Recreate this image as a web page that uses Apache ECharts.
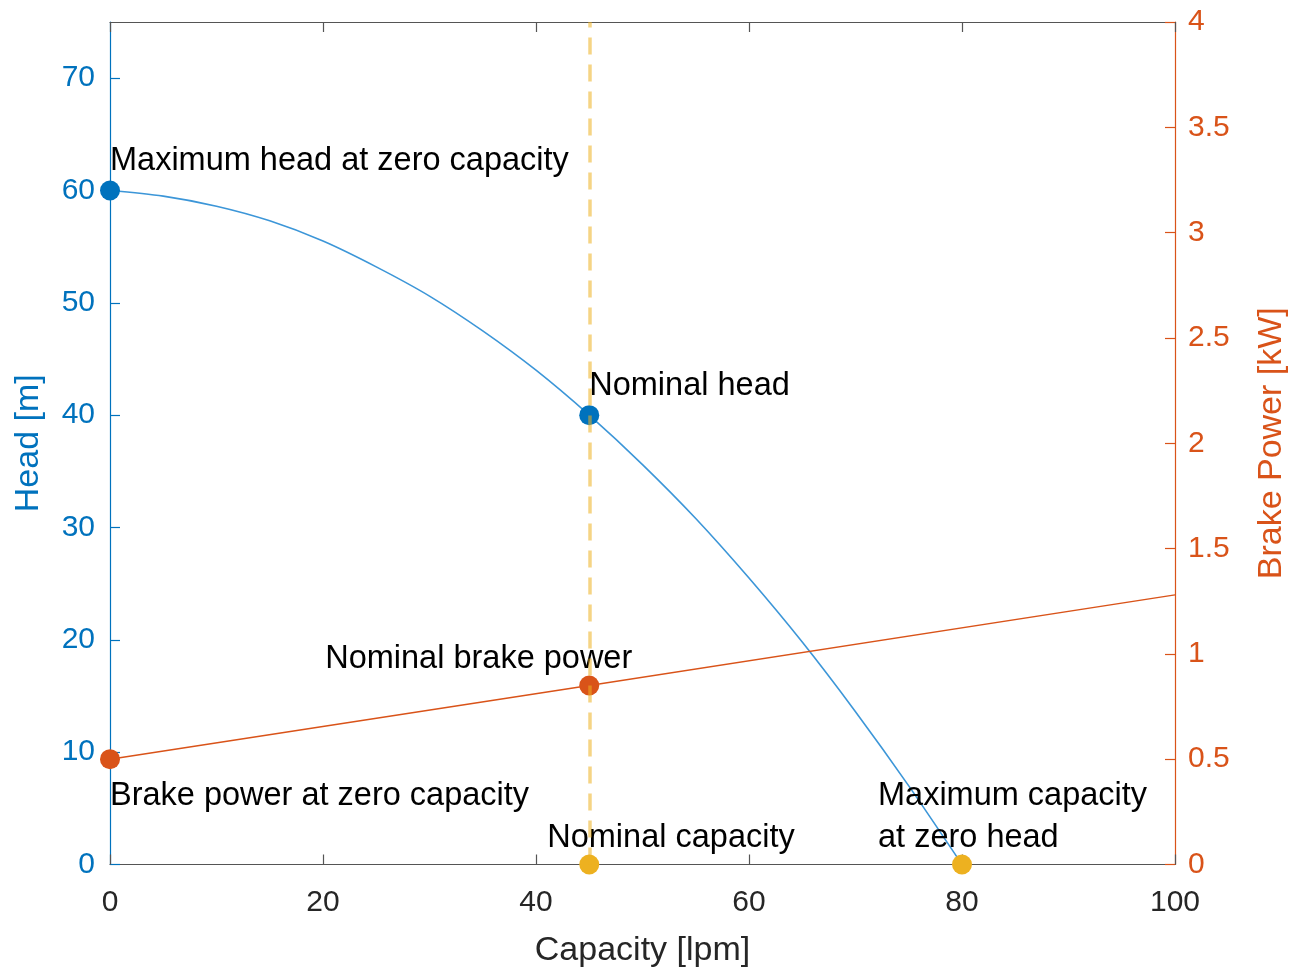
<!DOCTYPE html>
<html>
<head>
<meta charset="utf-8">
<script src="https://cdn.jsdelivr.net/npm/echarts@6/dist/echarts.min.js"></script>
<style>
html,body{margin:0;padding:0;background:#fff;}
#chart{width:1298px;height:969px;}
</style>
</head>
<body>
<div id="chart"></div>
<script>
// ---- data ----
const capacity = [0, 5, 10, 15, 20, 25, 30, 35, 40, 45, 50, 55, 60, 65, 70, 75, 80];
const head = [60, 59.5, 58.6, 57.3, 55.5, 53.2, 50.6, 47.5, 44.0, 40, 35.6, 30.8, 25.5, 19.8, 13.6, 7.0, 0];
const powerCapacity = [0, 45, 100];
const brakePower = [0.5, 0.85, 1.28];
const headPoints = [[0, 60], [45, 40]];
const headLabels = ['Maximum head at zero capacity', 'Nominal head'];
const powerPoints = [[0, 0.5], [45, 0.85]];
const powerLabels = ['Brake power at zero capacity', 'Nominal brake power'];
const capacityPoints = [[45, 0], [80, 0]];
const capacityLabels = ['Nominal capacity', 'Maximum capacity\nat zero head'];
const nominalCapacity = 45;
const xTicks = [0, 20, 40, 60, 80, 100];

const FONT = "'Liberation Sans', Arial, Helvetica, sans-serif";
const BLUE = '#0072BD', ORANGE = '#D95319', YELLOW = '#EDB120', GREY = '#262626';

const chart = echarts.init(document.getElementById('chart'), null, {renderer: 'canvas'});

// label placements (pixel offsets relative to the 20px marker box)
const headLabelPos = [
  {position: [10, -19], align: 'left'},
  {position: [10, -19], align: 'left'}
];
const powerLabelPos = [
  {position: [10, 47], align: 'left'},
  {position: [53, -16], align: 'right'}
];
const capLabelPos = [
  {position: [-32, -16], align: 'left'},
  {position: [-74, -37], align: 'left'}
];

function pts(points, labels, pos) {
  return points.map((p, i) => ({
    value: p,
    label: {
      show: true,
      formatter: labels[i],
      position: pos[i].position,
      align: pos[i].align,
      verticalAlign: 'middle',
      color: '#000',
      opacity: 1,
      textBorderWidth: 0,
      fontSize: 32.5,
      fontFamily: FONT,
      lineHeight: 42
    }
  }));
}

const option = {
  animation: false,
  backgroundColor: '#fff',
  grid: {left: 110, right: 123, top: 22, bottom: 104.5, containLabel: false, outerBoundsMode: 'none'},
  xAxis: [
    {
      type: 'value', min: xTicks[0], max: xTicks[xTicks.length - 1], interval: 20,
      name: 'Capacity [lpm]', nameLocation: 'middle', nameGap: 69,
      nameTextStyle: {color: GREY, fontSize: 34, fontFamily: FONT},
      axisLine: {show: true, onZero: false, lineStyle: {color: '#555', width: 1.2}},
      axisTick: {show: true, inside: true, length: 10, lineStyle: {color: '#555', width: 1.2}},
      axisLabel: {color: GREY, fontSize: 30, fontFamily: FONT, margin: 23},
      splitLine: {show: false}
    },
    {
      type: 'value', position: 'top', min: 0, max: 100, interval: 20,
      axisLine: {show: true, onZero: false, lineStyle: {color: '#555', width: 1.2}},
      axisTick: {show: true, inside: true, length: 10, lineStyle: {color: '#555', width: 1.2}},
      axisLabel: {show: false},
      splitLine: {show: false}
    }
  ],
  yAxis: [
    {
      type: 'value', position: 'left', min: 0, max: 75, interval: 10,
      name: 'Head [m]', nameLocation: 'middle', nameGap: 64, nameRotate: 90,
      nameTextStyle: {color: BLUE, fontSize: 34, fontFamily: FONT},
      axisLine: {show: true, onZero: false, lineStyle: {color: BLUE, width: 1.2}},
      axisTick: {show: true, inside: true, length: 10, lineStyle: {color: BLUE, width: 1.2}},
      axisLabel: {color: BLUE, fontSize: 30, fontFamily: FONT, margin: 15, showMaxLabel: false, padding: [4, 0, 0, 0]},
      splitLine: {show: false}
    },
    {
      type: 'value', position: 'right', min: 0, max: 4, interval: 0.5,
      name: 'Brake Power [kW]', nameLocation: 'middle', nameGap: 80, nameRotate: 90,
      nameTextStyle: {color: ORANGE, fontSize: 34, fontFamily: FONT},
      axisLine: {show: true, onZero: false, lineStyle: {color: ORANGE, width: 1.2}},
      axisTick: {show: true, inside: true, length: 10, lineStyle: {color: ORANGE, width: 1.2}},
      axisLabel: {color: ORANGE, fontSize: 30, fontFamily: FONT, margin: 13, padding: [4, 0, 0, 0]},
      splitLine: {show: false}
    }
  ],
  series: [
    {
      name: 'Head', type: 'line', xAxisIndex: 0, yAxisIndex: 0,
      data: capacity.map((c, i) => [c, head[i]]),
      smooth: 0.3, showSymbol: false, clip: false,
      lineStyle: {color: '#3C96D8', width: 1.6}, z: 2
    },
    {
      name: 'Brake power', type: 'line', xAxisIndex: 0, yAxisIndex: 1,
      data: powerCapacity.map((c, i) => [c, brakePower[i]]),
      showSymbol: false, clip: false,
      lineStyle: {color: ORANGE, width: 1.4}, z: 2
    },
    {
      name: 'Head points', type: 'scatter', xAxisIndex: 0, yAxisIndex: 0,
      symbol: 'circle', symbolSize: 20, clip: false,
      itemStyle: {color: BLUE, opacity: 1},
      data: pts(headPoints, headLabels, headLabelPos), z: 3
    },
    {
      name: 'Power points', type: 'scatter', xAxisIndex: 0, yAxisIndex: 1,
      symbol: 'circle', symbolSize: 20, clip: false,
      itemStyle: {color: ORANGE, opacity: 1},
      data: pts(powerPoints, powerLabels, powerLabelPos), z: 3
    },
    {
      name: 'Capacity points', type: 'scatter', xAxisIndex: 0, yAxisIndex: 0,
      symbol: 'circle', symbolSize: 20, clip: false,
      itemStyle: {color: YELLOW, opacity: 1},
      data: pts(capacityPoints, capacityLabels, capLabelPos), z: 3,
      markLine: {
        silent: true, symbol: ['none', 'none'], z: 10,
        label: {show: false},
        lineStyle: {color: YELLOW, type: [17, 10], width: 3.5, opacity: 0.55},
        data: [{xAxis: nominalCapacity}]
      }
    }
  ]
};
chart.setOption(option);
</script>
</body>
</html>
